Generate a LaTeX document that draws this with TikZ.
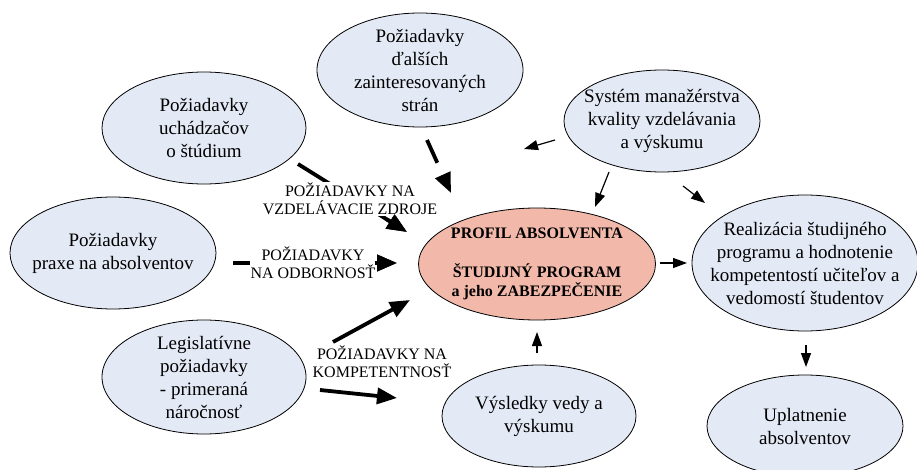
\documentclass[tikz,border=0pt]{standalone}
\usepackage{fontspec}
\setmainfont{Liberation Serif}
\usetikzlibrary{arrows.meta,shapes.geometric,calc}
\definecolor{bluefill}{RGB}{228,234,245}
\definecolor{salmonfill}{RGB}{242,185,170}

\begin{document}
\begin{tikzpicture}[x=1pt,y=-1pt,
  bubble/.style={ellipse, draw=black, line width=0.8pt, fill=bluefill, inner sep=0pt},
  coreshape/.style={ellipse, draw=black, line width=0.8pt, fill=salmonfill, inner sep=0pt},
  btext/.style={align=center, font=\fontsize{19}{23}\selectfont, inner sep=0pt},
  ctext/.style={align=center, font=\bfseries\fontsize{16}{19.5}\selectfont, inner sep=0pt},
  flow/.style={fill=white, align=center, font=\fontsize{16}{18}\selectfont, inner sep=1pt},
  heavy/.style={line width=3.8pt, -{Triangle[length=20pt,width=16pt]}},
  light/.style={line width=1.2pt, -{Triangle[length=14pt,width=10pt]}},
]
\useasboundingbox[fill=white] (0,0) rectangle (917,470);

% ellipses
\node[bubble, minimum width=206pt, minimum height=114pt] (dal) at (420,70) {};
\node[btext] (dal-t) at (dal.center) {Požiadavky\\ďalších\\zainteresovaných\\strán};

\node[bubble, minimum width=204pt, minimum height=112pt] (uch) at (204,128) {};
\node[btext] (uch-t) at (uch.center) {Požiadavky\\uchádzačov\\o štúdium};

\node[bubble, minimum width=206pt, minimum height=112pt] (prax) at (113,253) {};
\node[btext] (prax-t) at (prax.center) {Požiadavky\\praxe na absolventov};

\node[bubble, minimum width=204pt, minimum height=114pt] (leg) at (204,377) {};
\node[btext] (leg-t) at (leg.center) {Legislatívne\\požiadavky\\- primeraná\\náročnosť};

\node[bubble, minimum width=194pt, minimum height=102pt] (vys) at (539,416) {};
\node[btext] (vys-t) at (vys.center) {Výsledky vedy a\\výskumu};

\node[bubble, minimum width=196pt, minimum height=102pt] (sys) at (662,121) {};
\node[btext] (sys-t) at (sys.center) {Systém manažérstva\\kvality vzdelávania\\a výskumu};

\node[bubble, minimum width=226pt, minimum height=136pt] (real) at (805,263) {};
\node[btext] (real-t) at (real.center) {Realizácia študijného\\programu a hodnotenie\\kompetentostí učiteľov a\\vedomostí študentov};

\node[bubble, minimum width=196pt, minimum height=102pt] (upl) at (805,426) {};
\node[btext] (upl-t) at (upl.center) {Uplatnenie\\absolventov};

\node[coreshape, minimum width=237pt, minimum height=112pt] (prof) at (537,264) {};
\node[ctext] (prof-t) at (prof.center) {PROFIL ABSOLVENTA\\[19.5pt]ŠTUDIJNÝ PROGRAM\\a jeho ZABEZPEČENIE};

% arrow end points
\coordinate (uch-out) at (298,164);
\coordinate (uch-in) at (407,232);
\coordinate (dal-out) at (427,140);
\coordinate (dal-in) at (451,193);
\coordinate (prax-out) at (233,263);
\coordinate (prax-in) at (397,263);
\coordinate (leg-outA) at (333,342);
\coordinate (leg-inA) at (410,300);
\coordinate (leg-outB) at (320,390);
\coordinate (leg-inB) at (397,398);
\coordinate (vys-out) at (537,353);
\coordinate (vys-in) at (537,332);
\coordinate (prof-out) at (660,263);
\coordinate (prof-in) at (687,263);
\coordinate (real-out) at (806,345);
\coordinate (real-in) at (806,367);
\coordinate (sys-outL) at (555,140);
\coordinate (sys-inL) at (524,149);
\coordinate (sys-outC) at (609,172);
\coordinate (sys-inC) at (595,207);
\coordinate (sys-outR) at (683,186);
\coordinate (sys-inR) at (705,203);

% heavy input arrows
\draw[heavy] (uch-out) -- (uch-in);
\draw[heavy, dash pattern=on 25pt off 40pt] (dal-out) -- (dal-in);
\draw[heavy] (prax-out) -- (prax-in);
\draw[heavy] (leg-outA) -- (leg-inA);
\draw[heavy] (leg-outB) -- (leg-inB);

% light arrows
\draw[light] (vys-out) -- (vys-in);
\draw[light] (prof-out) -- (prof-in);
\draw[light] (real-out) -- (real-in);
\draw[light] (sys-outL) -- (sys-inL);
\draw[light] (sys-outC) -- (sys-inC);
\draw[light] (sys-outR) -- (sys-inR);

% labels set over the arrow shafts
\node[flow] (lab1) at (350,199) {POŽIADAVKY NA\\VZDELÁVACIE ZDROJE};
\node[flow] (lab2) at (313,263) {POŽIADAVKY\\NA ODBORNOSŤ};
\node[flow] (lab3) at (382,362) {POŽIADAVKY NA\\KOMPETENTNOSŤ};

% arrow heads kept on top of the labels
\draw[heavy] ($(uch-in)!24pt!(uch-out)$) -- (uch-in);
\draw[heavy] ($(prax-in)!22pt!(prax-out)$) -- (prax-in);
\end{tikzpicture}
\end{document}
